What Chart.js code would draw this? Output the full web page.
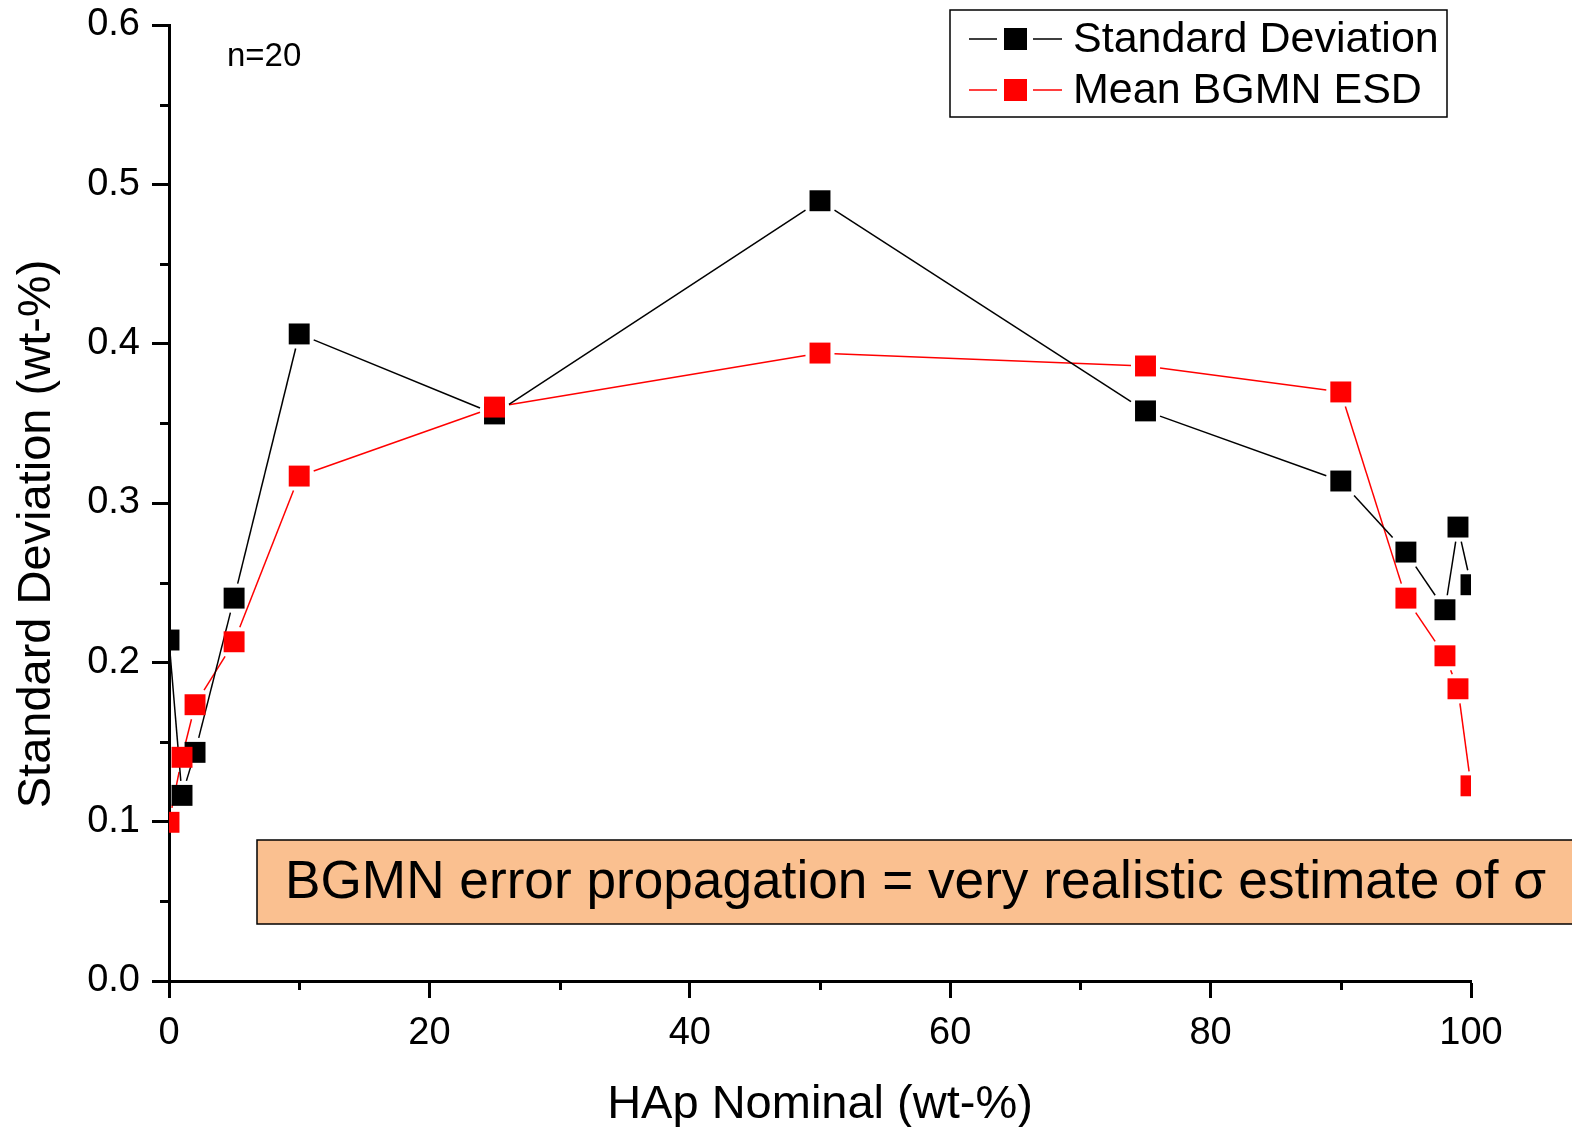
<!DOCTYPE html>
<html>
<head>
<meta charset="utf-8">
<script src="https://cdn.jsdelivr.net/npm/chart.js@4.4.0/dist/chart.umd.min.js"></script>
<style>
    body { margin: 0; background: #fff; }
    #wrap { width: 1572px; height: 1127px; position: relative; }
</style>
</head>
<body>
<div id="wrap"><canvas id="sdChart"></canvas></div>
<script>
// HAp nominal content (wt-%)
const nominal = [0, 1, 2, 5, 10, 25, 50, 75, 90, 95, 98, 99, 100];
// Standard deviation of n=20 refinements
const stdDev = [0.214, 0.1165, 0.1435, 0.2403, 0.4061, 0.3559, 0.4897, 0.3578, 0.3138, 0.2692, 0.2330, 0.2849, 0.2487];
// Mean BGMN estimated standard deviation
const meanEsd = [0.0996, 0.1404, 0.1734, 0.2129, 0.3169, 0.3602, 0.3941, 0.3860, 0.3697, 0.2403, 0.2041, 0.1834, 0.1225];

const xMinorTicks = [10, 30, 50, 70, 90];
const yMinorTicks = [0.05, 0.15, 0.25, 0.35, 0.45, 0.55];

const FONT = "'Liberation Sans', Arial, sans-serif";
const MARK = 10.5;   // half side of the square markers
const GAP = 4;       // origin-style gap between line and marker

function toPoints(xs, ys) {
    return xs.map((x, i) => ({ x: x, y: ys[i] }));
}

// connecting lines with a small gap at every marker
const gapLinePlugin = {
    id: 'gapLines',
    beforeDatasetsDraw(chart) {
        const ctx = chart.ctx;
        const area = chart.chartArea;
        ctx.save();
        ctx.beginPath();
        ctx.rect(area.left, area.top, area.right - area.left, area.bottom - area.top);
        ctx.clip();
        chart.data.datasets.forEach((ds, i) => {
            const pts = chart.getDatasetMeta(i).data;
            ctx.strokeStyle = ds.borderColor;
            ctx.lineWidth = 1.5;
            for (let j = 0; j < pts.length - 1; j++) {
                const a = pts[j], b = pts[j + 1];
                const dx = b.x - a.x, dy = b.y - a.y;
                const len = Math.hypot(dx, dy);
                if (!len) continue;
                const ux = dx / len, uy = dy / len;
                const d = (MARK + GAP) / Math.max(Math.abs(ux), Math.abs(uy));
                if (len <= 2 * d) continue;
                ctx.beginPath();
                ctx.moveTo(a.x + ux * d, a.y + uy * d);
                ctx.lineTo(b.x - ux * d, b.y - uy * d);
                ctx.stroke();
            }
        });
        ctx.restore();
    }
};

// minor ticks, y title, legend box, notes
const extrasPlugin = {
    id: 'extras',
    afterDraw(chart) {
        const ctx = chart.ctx;
        const xs = chart.scales.x;
        const ys = chart.scales.y;
        const area = chart.chartArea;
        ctx.save();

        // minor ticks
        ctx.strokeStyle = '#000';
        ctx.lineWidth = 3;
        xMinorTicks.forEach(v => {
            const px = Math.round(xs.getPixelForValue(v)) + 0.5;
            ctx.beginPath();
            ctx.moveTo(px, area.bottom);
            ctx.lineTo(px, area.bottom + 9);
            ctx.stroke();
        });
        yMinorTicks.forEach(v => {
            const py = Math.round(ys.getPixelForValue(v)) + 0.5;
            ctx.beginPath();
            ctx.moveTo(area.left, py);
            ctx.lineTo(area.left - 9, py);
            ctx.stroke();
        });

        // y axis title (sits a bit below the axis centre in the original)
        ctx.fillStyle = '#000';
        ctx.save();
        ctx.translate(37, 534);
        ctx.rotate(-Math.PI / 2);
        ctx.font = '47px ' + FONT;
        ctx.textAlign = 'center';
        ctx.textBaseline = 'middle';
        ctx.fillText('Standard Deviation (wt-%)', 0, 0);
        ctx.restore();

        // n=20
        ctx.font = '33px ' + FONT;
        ctx.textBaseline = 'middle';
        ctx.textAlign = 'left';
        ctx.fillText('n=20', 227, 57);

        // annotation box
        ctx.fillStyle = '#FAC090';
        ctx.fillRect(257, 840, 1400, 84);
        ctx.strokeStyle = '#000';
        ctx.lineWidth = 1.5;
        ctx.strokeRect(257, 840, 1400, 84);
        ctx.fillStyle = '#000';
        ctx.font = '53.2px ' + FONT;
        ctx.fillText('BGMN error propagation = very realistic estimate of \u03C3', 285, 883);

        // legend
        ctx.fillStyle = '#fff';
        ctx.fillRect(950, 10, 497, 107);
        ctx.strokeStyle = '#000';
        ctx.lineWidth = 1.5;
        ctx.strokeRect(950, 10, 497, 107);
        const rows = [chart.data.datasets[1], chart.data.datasets[0]];
        rows.forEach((ds, i) => {
            const cy = 39 + i * 51;
            ctx.strokeStyle = ds.borderColor;
            ctx.lineWidth = 1.5;
            ctx.beginPath();
            ctx.moveTo(969, cy);
            ctx.lineTo(997, cy);
            ctx.moveTo(1033, cy);
            ctx.lineTo(1062, cy);
            ctx.stroke();
            ctx.fillStyle = ds.pointBackgroundColor;
            ctx.fillRect(1004, cy - 11, 23, 22);
            ctx.fillStyle = '#000';
            ctx.font = '43px ' + FONT;
            ctx.fillText(ds.label, 1073, cy + 1);
        });

        ctx.restore();
    }
};

const ctx = document.getElementById('sdChart').getContext('2d');
new Chart(ctx, {
    type: 'line',
    data: {
        datasets: [
            {
                label: 'Mean BGMN ESD',
                data: toPoints(nominal, meanEsd),
                borderColor: '#ff0000',
                backgroundColor: '#ff0000',
                pointBackgroundColor: '#ff0000',
                pointBorderWidth: 0,
                borderWidth: 1.5,
                showLine: false,
                pointStyle: 'rect',
                pointRadius: 14.8,
                pointHoverRadius: 14.8,
                clip: 0,
                order: 1
            },
            {
                label: 'Standard Deviation',
                data: toPoints(nominal, stdDev),
                borderColor: '#000000',
                backgroundColor: '#000000',
                pointBackgroundColor: '#000000',
                pointBorderWidth: 0,
                borderWidth: 1.5,
                showLine: false,
                pointStyle: 'rect',
                pointRadius: 14.8,
                pointHoverRadius: 14.8,
                clip: 0,
                order: 2
            }
        ]
    },
    options: {
        responsive: true,
        maintainAspectRatio: false,
        animation: false,
        layout: { padding: { left: 0, right: 101, top: 25, bottom: 0 } },
        plugins: {
            legend: { display: false },
            tooltip: { enabled: false }
        },
        scales: {
            x: {
                type: 'linear',
                min: 0,
                max: 100,
                ticks: {
                    stepSize: 20,
                    color: '#000',
                    font: { family: FONT, size: 38 },
                    padding: 13,
                    maxRotation: 0
                },
                grid: {
                    drawOnChartArea: false,
                    drawTicks: true,
                    tickLength: 17,
                    tickWidth: 3,
                    tickColor: '#000'
                },
                border: { display: true, color: '#000', width: 3 },
                title: {
                    display: true,
                    text: 'HAp Nominal (wt-%)',
                    color: '#000',
                    font: { family: FONT, size: 47 },
                    padding: { top: 0, bottom: -6 }
                },
                afterFit(scale) {
                    scale.height = 146;
                    scale.paddingLeft = 0;
                    scale.paddingRight = 0;
                }
            },
            y: {
                type: 'linear',
                min: 0,
                max: 0.6,
                ticks: {
                    stepSize: 0.1,
                    color: '#000',
                    font: { family: FONT, size: 38 },
                    padding: 12,
                    callback: v => v.toFixed(1)
                },
                grid: {
                    drawOnChartArea: false,
                    drawTicks: true,
                    tickLength: 17,
                    tickWidth: 3,
                    tickColor: '#000'
                },
                border: { display: true, color: '#000', width: 3 },
                title: { display: false },
                afterFit(scale) {
                    scale.width = 169;
                    scale.paddingTop = 0;
                    scale.paddingBottom = 0;
                }
            }
        }
    },
    plugins: [gapLinePlugin, extrasPlugin]
});
</script>
</body>
</html>
